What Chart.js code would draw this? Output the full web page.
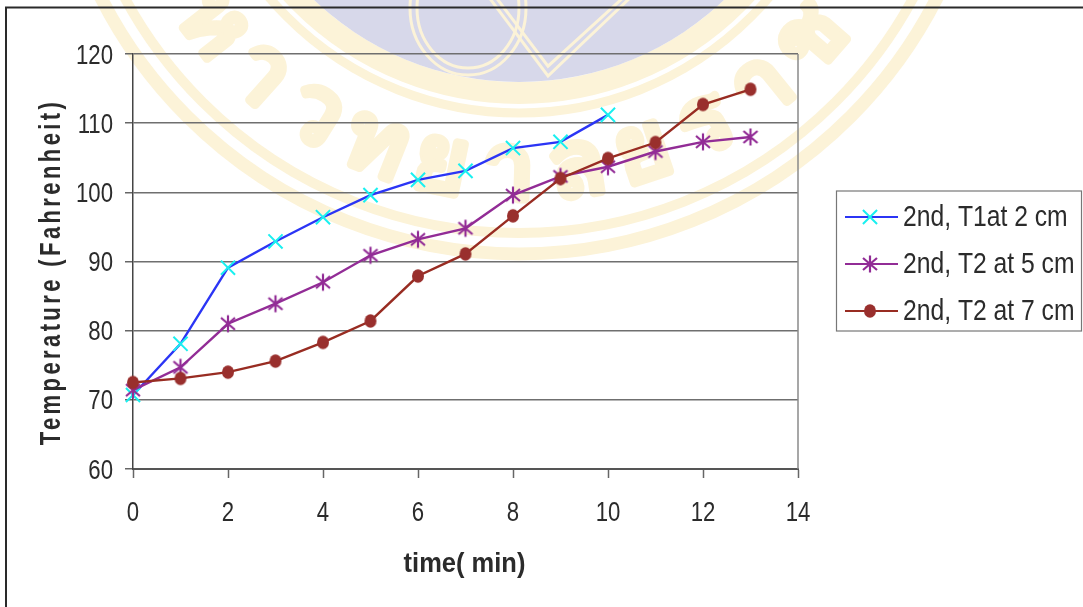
<!DOCTYPE html>
<html>
<head>
<meta charset="utf-8">
<title>Temperature vs time</title>
<script src="https://cdn.jsdelivr.net/npm/chart.js@4/dist/chart.umd.js"></script>
<style>
  html, body { margin: 0; padding: 0; background: #fff; }
  #wrap { width: 1083px; height: 607px; position: relative; overflow: hidden; }
</style>
</head>
<body>
<div id="wrap"><canvas id="chart" width="1083" height="607"></canvas></div>
<script>
// readings, one per minute
const minutes = [0, 1, 2, 3, 4, 5, 6, 7, 8, 9, 10, 11, 12, 13];
const t1At2cm = [70.7, 78.1, 89.1, 92.9, 96.4, 99.6, 101.8, 103.1, 106.4, 107.3, 111.2];
const t2At5cm = [71.4, 74.7, 81, 83.9, 87, 90.9, 93.2, 94.8, 99.6, 102.3, 103.7, 105.9, 107.3, 108];
const t2At7cm = [72.5, 73.1, 74, 75.6, 78.3, 81.4, 87.9, 91.1, 96.6, 102, 104.9, 107.2, 112.7, 114.9];

const seriesLabels = ['2nd, T1at 2 cm', '2nd, T2 at 5 cm', '2nd, T2 at 7 cm'];
const xAxisTitle = 'time( min)';
const yAxisTitle = 'Temperature (Fahrenheit)';
const sealLetters = ['ห', 'า', 'ว', 'ท', 'ย', 'า', 'ล', 'ย', 'ร', 'า', 'ช'];

const SANS = '"Liberation Sans", Arial, sans-serif';
const TEXT = '#2b2b2b';

// six armed asterisk, the built in star has eight
function asteriskMarker(color) {
  const c = document.createElement('canvas');
  c.width = 20; c.height = 20;
  const g = c.getContext('2d');
  g.strokeStyle = color;
  g.lineWidth = 2.2;
  g.beginPath();
  g.moveTo(10, 1.5); g.lineTo(10, 18.5);
  g.moveTo(3, 4); g.lineTo(17, 16);
  g.moveTo(17, 4); g.lineTo(3, 16);
  g.stroke();
  return c;
}

function dotMarker(color) {
  const c = document.createElement('canvas');
  c.width = 16; c.height = 16;
  const g = c.getContext('2d');
  g.fillStyle = color;
  g.beginPath();
  g.ellipse(8, 8, 6, 6.8, 0, 0, Math.PI * 2);
  g.fill();
  return c;
}

function toPoints(values) {
  return values.map((v, i) => ({ x: minutes[i], y: v }));
}

// labels here are tall and narrow, so squeeze them with a vertical stretch
function tallText(ctx, text, x, y, size, stretch, align, weight) {
  ctx.save();
  ctx.translate(x, y);
  ctx.scale(1, stretch);
  ctx.font = (weight || 'normal') + ' ' + size + 'px ' + SANS;
  ctx.fillStyle = TEXT;
  ctx.textAlign = align;
  ctx.textBaseline = 'alphabetic';
  ctx.fillText(text, 0, 0);
  ctx.restore();
}

// pale university seal behind the plot
const sealPlugin = {
  id: 'seal',
  beforeDraw(chart) {
    const ctx = chart.ctx;
    const cx = 519, cy = -215;
    const yellow = '#fcf3d8';
    ctx.save();
    ctx.fillStyle = '#fff';
    ctx.fillRect(0, 0, chart.width, chart.height);

    ctx.strokeStyle = yellow;
    [[469, 13], [448, 10], [328, 9], [308, 22]].forEach(([r, w]) => {
      ctx.lineWidth = w;
      ctx.beginPath();
      ctx.arc(cx, cy, r, 0, Math.PI * 2);
      ctx.stroke();
    });
    ctx.fillStyle = '#d7d8ea';
    ctx.beginPath();
    ctx.arc(cx, cy, 297, 0, Math.PI * 2);
    ctx.fill();

    // knot in the middle of the disc
    ctx.strokeStyle = yellow;
    ctx.lineWidth = 3;
    [0, 7].forEach((d) => {
      ctx.beginPath();
      ctx.ellipse(468, 8, 58 - d, 67 - d, 0, 0, Math.PI * 2);
      ctx.stroke();
      ctx.beginPath();
      ctx.moveTo(488 + d, -4);
      ctx.lineTo(548, 76 - d * 1.4);
      ctx.lineTo(632 - d, -4);
      ctx.stroke();
    });

    // lettering around the ring, read left to right along the bottom
    ctx.fillStyle = yellow;
    ctx.strokeStyle = yellow;
    ctx.lineWidth = 6;
    ctx.lineJoin = 'round';
    ctx.font = 'bold 92px "Noto Sans", "DejaVu Sans", sans-serif';
    ctx.textAlign = 'center';
    ctx.textBaseline = 'middle';
    const first = 142, last = 41;
    sealLetters.forEach((ch, i) => {
      const deg = first + (last - first) * i / (sealLetters.length - 1);
      const a = deg * Math.PI / 180;
      ctx.save();
      ctx.translate(cx + 388 * Math.cos(a), cy + 388 * Math.sin(a));
      ctx.rotate(a - Math.PI / 2);
      ctx.strokeText(ch, 0, 0);
      ctx.fillText(ch, 0, 0);
      ctx.restore();
    });
    ctx.restore();
  }
};

// outer frame, plot right edge, tick labels, axis titles and the boxed legend
const framePlugin = {
  id: 'frame',
  beforeDatasetsDraw(chart) {
    const { ctx, chartArea } = chart;
    ctx.save();
    ctx.strokeStyle = '#8a8a8a';
    ctx.lineWidth = 1.5;
    ctx.beginPath();
    ctx.moveTo(chartArea.right, chartArea.top);
    ctx.lineTo(chartArea.right, chartArea.bottom);
    ctx.stroke();
    ctx.restore();
  },
  afterDraw(chart) {
    const ctx = chart.ctx;
    const { x: xScale, y: yScale } = chart.scales;
    ctx.save();
    ctx.strokeStyle = '#2a2a2a';
    ctx.lineWidth = 2;
    ctx.beginPath();
    ctx.moveTo(chart.width, 7.5);
    ctx.lineTo(6, 7.5);
    ctx.lineTo(6, chart.height);
    ctx.stroke();

    yScale.ticks.forEach((t) => {
      tallText(ctx, String(t.value), 113, yScale.getPixelForValue(t.value) + 9.5, 22.2, 1.27, 'right');
    });
    xScale.ticks.forEach((t) => {
      tallText(ctx, String(t.value), xScale.getPixelForValue(t.value), 520.5, 22.2, 1.27, 'center');
    });

    tallText(ctx, xAxisTitle, 464.5, 572, 25.5, 1.08, 'center', 'bold');

    ctx.save();
    ctx.translate(59.5, 272);
    ctx.rotate(-Math.PI / 2);
    ctx.scale(1, 1.3);
    ctx.font = 'bold 22px ' + SANS;
    ctx.letterSpacing = '3.4px';
    ctx.fillStyle = TEXT;
    ctx.textAlign = 'center';
    ctx.textBaseline = 'alphabetic';
    ctx.fillText(yAxisTitle, 0, 0);
    ctx.restore();

    ctx.strokeStyle = '#777';
    ctx.lineWidth = 1.2;
    ctx.fillStyle = '#fff';
    ctx.fillRect(836.5, 191, 245, 140);
    ctx.strokeRect(836.5, 191, 245, 140);

    const rows = [217, 264, 311];
    chart.data.datasets.forEach((ds, i) => {
      ctx.strokeStyle = ds.borderColor;
      ctx.lineWidth = 2;
      ctx.beginPath();
      ctx.moveTo(845, rows[i]);
      ctx.lineTo(898, rows[i]);
      ctx.stroke();
      ctx.strokeStyle = ds.pointBorderColor;
      ctx.fillStyle = ds.pointBorderColor;
      ctx.lineWidth = ds.pointBorderWidth;
      Chart.helpers.drawPoint(ctx, { pointStyle: ds.pointStyle, radius: ds.pointRadius, borderWidth: ds.pointBorderWidth, rotation: 0 }, 870, rows[i]);
      tallText(ctx, ds.label, 903, rows[i] + 9, 24.7, 1.18, 'left');
    });
    ctx.restore();
  }
};

new Chart(document.getElementById('chart'), {
  type: 'line',
  data: {
    datasets: [
      {
        label: seriesLabels[0],
        data: toPoints(t1At2cm),
        borderColor: '#2b35f5',
        borderWidth: 2.4,
        pointStyle: 'crossRot',
        pointRadius: 10,
        pointBorderColor: '#19f0f0',
        pointBorderWidth: 2,
        clip: false,
        order: 2
      },
      {
        label: seriesLabels[1],
        data: toPoints(t2At5cm),
        borderColor: '#922c96',
        borderWidth: 2.4,
        pointStyle: asteriskMarker('#922c96'),
        pointRadius: 9,
        pointBorderColor: '#922c96',
        pointBorderWidth: 2,
        clip: false,
        order: 1
      },
      {
        label: seriesLabels[2],
        data: toPoints(t2At7cm),
        borderColor: '#982c22',
        borderWidth: 2.4,
        pointStyle: dotMarker('#992f2d'),
        pointRadius: 7,
        pointBorderColor: '#992f2d',
        pointBorderWidth: 1,
        clip: false,
        order: 0
      }
    ]
  },
  options: {
    responsive: false,
    animation: false,
    layout: { padding: { left: 0, top: 54, right: 285, bottom: 0 } },
    plugins: { legend: { display: false }, tooltip: { enabled: false } },
    scales: {
      x: {
        type: 'linear',
        min: 0,
        max: 14,
        afterFit(scale) { scale.height = 138; },
        ticks: { stepSize: 2, display: false },
        grid: { drawOnChartArea: false, tickLength: 9, tickColor: '#666', tickWidth: 1.5 },
        border: { color: '#555', width: 2 }
      },
      y: {
        min: 60,
        max: 120,
        afterFit(scale) { scale.width = 133; },
        ticks: { stepSize: 10, display: false },
        grid: { color: '#6f6f6f', lineWidth: 1.5, tickLength: 8, tickColor: '#666', tickWidth: 1.5 },
        border: { color: '#444', width: 1.5 }
      }
    }
  },
  plugins: [sealPlugin, framePlugin]
});
</script>
</body>
</html>
